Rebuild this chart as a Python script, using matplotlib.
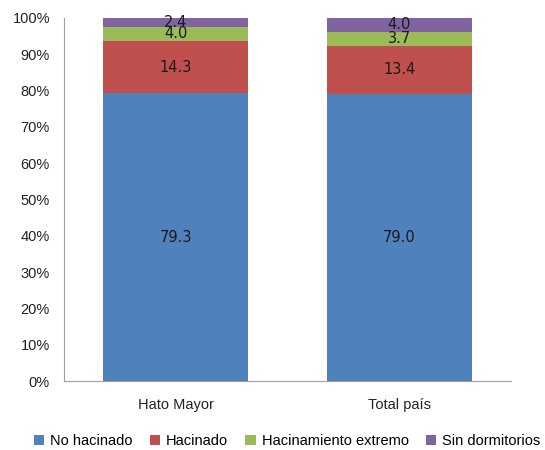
import matplotlib
matplotlib.use('Agg')
import matplotlib.pyplot as plt
from matplotlib.ticker import PercentFormatter

# datos
categorias = ['Hato Mayor', 'Total país']
series = ['No hacinado', 'Hacinado', 'Hacinamiento extremo', 'Sin dormitorios']
no_hacinado = [79.3, 79.0]
hacinado = [14.3, 13.4]
hac_extremo = [4.0, 3.7]
sin_dorm = [2.4, 4.0]
colores = ['#4f81bd', '#c0504d', '#9bbb59', '#8064a2']

plt.rcParams['font.family'] = ['Liberation Sans', 'DejaVu Sans']

fig = plt.figure(figsize=(5.45, 4.5), dpi=100)
ax = fig.add_axes([0.117, 0.153, 0.821, 0.807])

x = range(len(categorias))
base = [0, 0]
for nombre, vals, col in zip(series, [no_hacinado, hacinado, hac_extremo, sin_dorm], colores):
    ax.bar(x, vals, width=0.65, bottom=base, color=col, label=nombre)
    for i, v in enumerate(vals):
        ax.text(i, base[i] + v / 2, '%.1f' % v, ha='center', va='center',
                fontsize=10.5, family='DejaVu Sans', color='#1a1a1a')
    base = [b + v for b, v in zip(base, vals)]

ax.set_xlim(-0.5, 1.5)
ax.set_ylim(0, 100)
ax.set_yticks(range(0, 101, 10))
ax.yaxis.set_major_formatter(PercentFormatter(decimals=0))
ax.set_xticks(list(x))
ax.set_xticklabels(categorias)
ax.tick_params(axis='both', length=0, labelsize=10.5, colors='#222222')
ax.tick_params(axis='x', pad=12)
ax.tick_params(axis='y', pad=10)
for s in ['top', 'right']:
    ax.spines[s].set_visible(False)
for s in ['left', 'bottom']:
    ax.spines[s].set_color('#a0a0a0')

ax.legend(loc='center', bbox_to_anchor=(0.499, -0.165), ncol=4, frameon=False,
          fontsize=10.5, handlelength=0.7, handleheight=0.7, handletextpad=0.4,
          columnspacing=1.2)

fig.savefig('out.png', dpi=100)
